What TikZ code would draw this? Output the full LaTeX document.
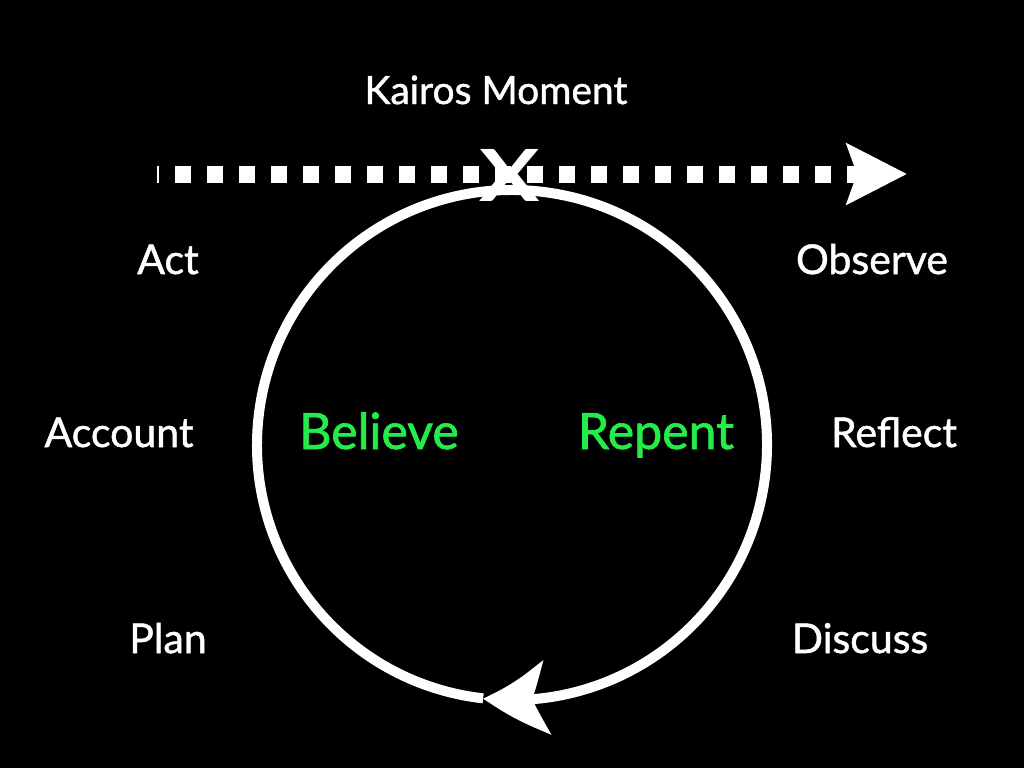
\documentclass[tikz,border=0pt]{standalone}
\usepackage{fontspec}
\setmainfont{Lato}
\usetikzlibrary{positioning, arrows.meta, bending}
\definecolor{repgreen}{RGB}{36,236,72}

\begin{document}
\begin{tikzpicture}[
    x=1pt, y=-1pt,
    word/.style={text=white, anchor=base, inner sep=0pt, font=\addfontfeature{FakeBold=1.2}\fontsize{41}{48}\selectfont},
    stage/.style={text=repgreen, anchor=base, inner sep=0pt, font=\addfontfeature{FakeBold=1.4}\fontsize{50}{58}\selectfont},
    timeline/.style={white, line width=17pt, dash pattern=on 16pt off 16pt, dash phase=14pt,
        -{Stealth[length=60pt, width=60pt, inset=10pt]}},
    loop/.style={white, line width=10pt, -{Stealth[length=65pt, width=73pt, inset=15pt, bend]}}
]
\fill[black] (0,0) rectangle (1024,768);
\useasboundingbox (0,0) rectangle (1024,768);

% Coordinates
\coordinate (timestart) at (157,174);
\coordinate (timeend) at (907,174);
\coordinate (cycle) at (512,445);

% Labels
\node[word, font=\addfontfeature{FakeBold=1.2}\fontsize{39}{46}\selectfont] (kairos) at (496,104) {Kairos Moment};
\node[word] (act) at (168,274) {Act};
\node[word] (observe) at (872,274) {Observe};
\node[word] (account) at (119,447) {Account};
\node[word] (reflect) at (894,447) {Reflect};
\node[word] (plan) at (168,653) {Plan};
\node[word] (discuss) at (860,653) {Discuss};
\node[stage] (believe) at (379,449) {Believe};
\node[stage] (repent) at (656,449) {Repent};

% Time line and cycle
\draw[timeline] (timestart) -- (timeend);
\draw[loop] (cycle) ++(623.5:255pt) arc[start angle=623.5, end angle=263.5, radius=255pt];

% Moment mark
\node[text=white, inner sep=0pt, xscale=1.25, font=\bfseries\fontsize{72}{72}\selectfont] (mark) at (510,175) {X};

\end{tikzpicture}
\end{document}
